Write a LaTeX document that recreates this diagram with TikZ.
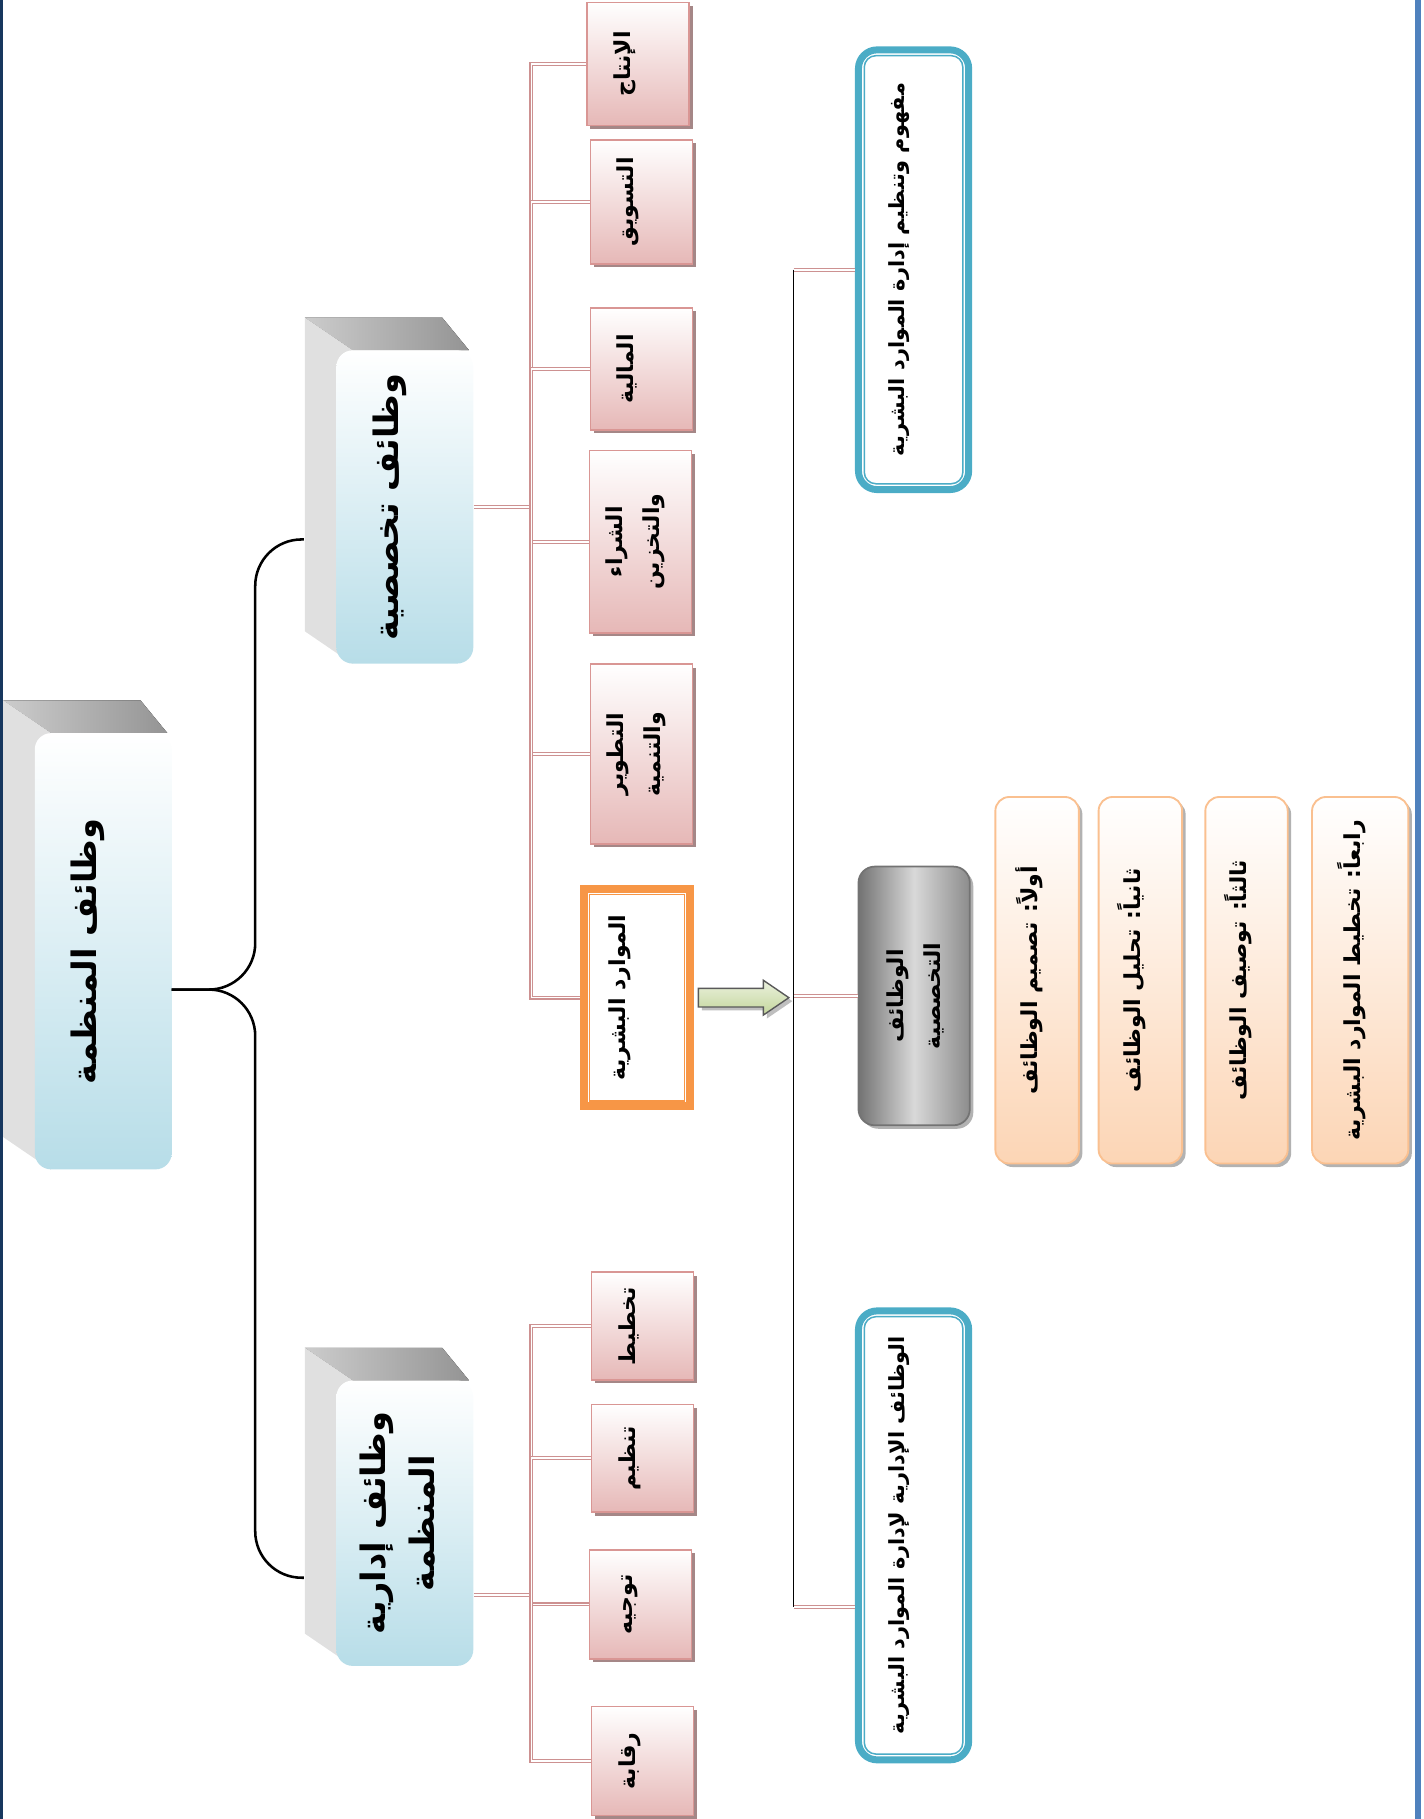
\documentclass[tikz,border=0pt]{standalone}
\usepackage{fontspec}
\usepackage{graphicx}
\newfontfamily\arabicfont[Script=Arabic]{DejaVu Sans}
\TeXXeTstate=1
\usetikzlibrary{calc,positioning,shadows,backgrounds}

\definecolor{navy}{RGB}{23,55,94}
\definecolor{frameblue}{RGB}{79,129,189}
\definecolor{facebot}{RGB}{183,221,232}
\definecolor{pinkdraw}{RGB}{217,150,148}
\definecolor{pinkfill}{RGB}{230,184,183}
\definecolor{shadowpink}{RGB}{165,135,135}
\definecolor{hrorange}{RGB}{247,150,70}
\definecolor{tealblue}{RGB}{75,172,198}
\definecolor{peach}{RGB}{252,213,181}
\definecolor{peachdraw}{RGB}{250,192,144}
\definecolor{linkpink}{RGB}{205,145,145}
\definecolor{greenlight}{RGB}{235,241,222}
\definecolor{greendark}{RGB}{195,214,155}

\newcommand{\rl}[1]{\beginR#1\endR}
% optional argument moves the rotated text to the left by half its value
\newcommand{\vtext}[2][0pt]{\hspace*{-#1}\rotatebox{90}{\begin{tabular}{@{}c@{}}#2\end{tabular}}}

\begin{document}
\begin{tikzpicture}[x=1pt,y=-1pt,
 face/.style={rounded corners=14pt,top color=white,bottom color=facebot,minimum width=118,inner sep=0},
 bigtxt/.style={font=\arabicfont\bfseries\fontsize{29}{42}\selectfont,inner sep=0},
 unit/.style={draw=pinkdraw,line width=1.3pt,top color=white,bottom color=pinkfill,minimum width=88,inner sep=0,
  drop shadow={shadow xshift=3pt,shadow yshift=-3pt,fill=shadowpink,opacity=1},
  font=\arabicfont\bfseries\fontsize{19}{32}\selectfont},
 hrbox/.style={draw=hrorange,line width=7pt,fill=white,minimum width=91,minimum height=187,inner sep=0,
  font=\arabicfont\bfseries\fontsize{19}{32}\selectfont},
 topic/.style={draw=tealblue,line width=6pt,fill=white,rounded corners=16pt,minimum width=95,inner sep=0,
  font=\arabicfont\bfseries\fontsize{18}{32}\selectfont},
 step box/.style={draw=peachdraw,line width=1.6pt,top color=white,bottom color=peach,rounded corners=12pt,
  minimum height=316,inner sep=0,drop shadow={shadow xshift=3pt,shadow yshift=-3pt,fill=black!30,opacity=1},
  font=\arabicfont\bfseries\fontsize{19}{32}\selectfont},
 graybox/.style={draw=black!55,line width=1.5pt,left color=black!55,right color=black!45,middle color=black!15,
  rounded corners=14pt,minimum width=96,minimum height=223,inner sep=0,
  drop shadow={shadow xshift=3pt,shadow yshift=-3pt,fill=black!30,opacity=1},
  font=\arabicfont\bfseries\fontsize{19}{32}\selectfont},
 link/.style={draw=linkpink,double=white,double distance=1.4pt,line width=1.1pt},
 brace/.style={draw=black,line width=2.2pt,rounded corners=40pt},
 trunk/.style={draw=black,line width=1.5pt}]

\useasboundingbox (0,0) rectangle (1227,1568);
\draw[navy,line width=2.5pt] (1.25,0) -- (1.25,1568);
\draw[frameblue,line width=5pt] (1222,0) -- (1222,1568);

% main blocks
\node[face,minimum height=376] (root) at (89,820) {};
\node[face,minimum height=270] (spec) at (349,437) {};
\node[face,minimum height=246] (admin) at (349,1313) {};
\begin{scope}[on background layer]
\foreach \f in {root,spec,admin}{
 \fill[left color=black!20,right color=black!42] ($(\f.north west)+(-27,-28)$) -- ($(\f.north east)+(-27,-28)$)
  -- ($(\f.north east)+(-4,0)$) -- ($(\f.north west)+(14,0)$) -- cycle;
 \fill[black!12] ($(\f.north west)+(-27,-28)$) -- ($(\f.north west)+(14,0)$) -- ($(\f.south west)+(14,0)$)
  -- ($(\f.south west)+(-27,-28)$) -- cycle;
}
\end{scope}
\node[bigtxt] (roottxt) at ([xshift=-14]root.center) {\vtext{\rl{وظائف المنظمة}}};
\node[bigtxt] (spectxt) at ([xshift=-14]spec.center) {\vtext{\rl{وظائف تخصصية}}};
\node[bigtxt] (admintxt) at ([xshift=-4]admin.center) {\vtext{\rl{وظائف إدارية}\\\rl{المنظمة}}};

\coordinate (tip) at (148,853);
\coordinate (bend) at (220,853);
\coordinate (specin) at (262,465);
\coordinate (adminin) at (262,1360);
\draw[brace] (tip) -- (bend) |- (specin);
\draw[brace] (tip) -- (bend) |- (adminin);

% specialised units
\node[unit,minimum height=106] (s1) at (550,55) {\vtext[26pt]{\rl{الإنتاج}}};
\node[unit,minimum height=107] (s2) at (553,174) {\vtext[26pt]{\rl{التسويق}}};
\node[unit,minimum height=105] (s3) at (553,318) {\vtext[26pt]{\rl{المالية}}};
\node[unit,minimum height=157] (s4) at (552,467) {\vtext[12pt]{\rl{الشراء}\\\rl{والتخزين}}};
\node[unit,minimum height=155] (s5) at (553,650) {\vtext[12pt]{\rl{التطوير}\\\rl{والتنمية}}};
\node[hrbox] (s6) at (549,860) {\vtext[32pt]{\rl{الموارد البشرية}}};
\draw[hrorange,line width=1.2pt] ($(s6.north west)+(8,8)$) rectangle ($(s6.south east)+(-8,-8)$);

% administrative units
\node[unit,minimum height=93] (a1) at (554,1143) {\vtext[26pt]{\rl{تخطيط}}};
\node[unit,minimum height=93] (a2) at (554,1257) {\vtext[26pt]{\rl{تنظيم}}};
\node[unit,minimum height=94] (a3) at (552,1383) {\vtext[26pt]{\rl{توجيه}}};
\node[unit,minimum height=94] (a4) at (554,1518) {\vtext[26pt]{\rl{رقابة}}};

\coordinate (sbus) at (458,437);
\coordinate (abus) at (458,1375);
\begin{scope}[on background layer]
\draw[link] (spec.east) -- (sbus);
\foreach \n in {s1,s2,s3,s4,s5,s6} \draw[link] (sbus) |- (\n.west);
\draw[link] (abus -| admin.east) -- (abus);
\foreach \n in {a1,a2,a3,a4} \draw[link] (abus) |- (\n.west);
\end{scope}

% human resources side
\node[topic,minimum height=379] (b1) at (787.5,232.5) {\vtext[28pt]{\rl{مفهوم وتنظيم إدارة الموارد البشرية}}};
\node[topic,minimum height=387] (b2) at (787.5,1323.5) {\vtext[28pt]{\rl{الوظائف الإدارية لإدارة الموارد البشرية}}};
\foreach \b in {b1,b2}
 \draw[tealblue,line width=1.3pt,rounded corners=10pt] ($(\b.north west)+(8,8)$) rectangle ($(\b.south east)+(-8,-8)$);
\node[graybox] (g) at (788,858.5) {\vtext{\rl{الوظائف}\\\rl{التخصصية}}};

\node[step box,minimum width=72] (o1) at (894,845) {\vtext[12pt]{\rl{أولاً: تصميم الوظائف}}};
\node[step box,minimum width=72] (o2) at (983,845) {\vtext[12pt]{\rl{ثانياً: تحليل الوظائف}}};
\node[step box,minimum width=71] (o3) at (1074.5,845) {\vtext[12pt]{\rl{ثالثاً: توصيف الوظائف}}};
\node[step box,minimum width=83] (o4) at (1172.5,845) {\vtext[12pt]{\rl{رابعاً: تخطيط الموارد البشرية}}};

\coordinate (ltop) at (684,232.5);
\coordinate (lbot) at (684,1385);
\coordinate (arrowtip) at (g.west -| ltop);
\draw[trunk] (ltop) -- (lbot);
\draw[link] (ltop) -- (b1.west);
\draw[link] (arrowtip) -- (g.west);
\draw[link] (lbot) -- (lbot -| b2.west);

\draw[draw=black!65,line width=1.2pt,top color=greenlight,bottom color=greendark,
 drop shadow={shadow xshift=3pt,shadow yshift=-3pt,fill=black!25,opacity=1}]
 ($(s6.east)+(4,-8)$) -- ++(56,0) -- ++(0,-7) -- ++(22,15) -- ++(-22,15) -- ++(0,-7) -- ++(-56,0) -- cycle;
\end{tikzpicture}
\end{document}
